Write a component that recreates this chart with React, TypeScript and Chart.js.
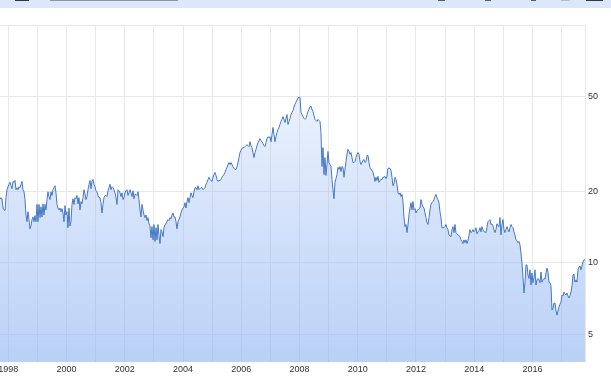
import React, { useEffect, useRef } from "react";
import { Chart, registerables } from "chart.js";

Chart.register(...registerables);

const firstSampleYear = 1997.715;
const lastSampleYear = 2017.805;
const samplesPerYear = 29.12;
const yearTicks = [1998, 1999, 2000, 2001, 2002, 2003, 2004, 2005, 2006, 2007, 2008, 2009, 2010, 2011, 2012, 2013, 2014, 2015, 2016, 2017];
const yearLabels = [1998, 2000, 2002, 2004, 2006, 2008, 2010, 2012, 2014, 2016];
const priceTicks = [5, 10, 20, 50, 100];
const priceLabels = [5, 10, 20, 50];

const prices = [
  18.8,18.6,18.6,17.0,16.7,16.6,18.8,20.3,20.9,21.4,21.8,21.1,20.5,22.0,21.8,22.2,20.3,20.7,20.3,20.9,
  20.7,21.4,22.0,20.3,19.9,18.45,15.9,14.9,16.4,15.2,13.9,14.3,15.2,15.6,14.9,15.8,14.9,17.6,14.9,17.6,
  15.5,17.2,15.6,17.7,15.9,17.6,16.7,18.45,19.9,19.0,18.45,19.9,19.2,20.3,20.7,21.1,19.7,17.6,17.0,16.7,
  17.0,16.4,16.9,16.2,14.9,17.4,15.9,16.4,14.05,17.0,14.3,14.9,17.6,18.6,17.6,18.8,18.6,19.2,17.7,18.8,
  16.7,18.1,17.7,18.8,20.3,19.5,18.45,19.0,20.3,21.4,22.2,20.5,22.0,22.4,21.4,20.9,20.1,19.9,19.2,18.8,
  18.8,17.9,16.2,17.6,18.8,19.2,19.2,19.0,20.1,20.7,21.4,20.3,20.9,20.7,20.3,19.7,18.8,17.6,20.3,20.1,
  19.7,19.0,19.7,18.45,18.8,19.7,20.1,20.3,19.2,19.7,20.3,19.7,19.0,20.1,18.6,19.4,19.4,19.2,19.9,18.45,
  16.7,15.6,17.6,16.7,15.9,15.5,15.9,15.05,15.5,14.6,14.3,12.75,14.2,12.5,14.5,12.3,14.05,12.5,14.5,13.0,
  12.05,13.8,13.5,12.9,14.05,14.5,14.6,14.9,15.2,15.05,15.5,15.3,15.9,16.2,15.6,15.6,14.9,13.9,14.9,15.2,
  15.6,16.2,16.7,17.0,17.2,17.9,17.0,18.1,18.8,17.9,18.8,19.7,19.2,18.8,19.9,20.7,20.7,20.3,21.1,20.3,
  20.5,20.7,20.7,20.3,20.5,20.7,21.4,21.8,22.4,22.9,22.4,22.2,22.0,22.9,23.5,24.0,23.3,22.4,22.0,22.2,
  22.2,22.4,22.9,23.3,23.5,24.0,24.7,25.2,25.9,26.4,25.9,26.4,25.9,25.4,25.0,24.7,24.7,25.4,26.4,27.7,
  29.1,29.7,30.3,30.5,30.5,30.8,31.1,31.4,31.1,30.8,32.3,31.1,30.5,29.1,27.7,29.1,30.0,31.1,32.0,32.6,
  33.3,32.6,32.3,31.7,31.1,30.8,32.0,33.3,33.9,33.6,33.9,32.3,34.6,37.1,34.6,32.3,33.9,35.3,36.4,37.1,
  38.2,39.3,40.1,41.2,40.1,38.9,40.5,42.0,38.2,39.3,40.5,42.0,42.9,43.7,45.2,46.5,47.4,48.4,49.3,49.7,
  49.7,42.9,42.0,41.2,40.5,40.1,40.5,42.0,43.3,44.2,45.2,45.6,44.2,43.3,41.6,40.1,39.7,39.3,40.1,39.7,
  39.3,35.3,25.4,30.5,23.5,27.7,23.3,25.9,29.4,26.4,25.9,25.4,22.4,20.3,18.6,21.8,22.6,23.5,25.2,24.7,
  25.4,24.2,25.4,25.2,22.9,24.7,26.7,28.6,30.0,29.4,28.6,29.1,27.7,26.4,26.4,26.7,27.7,28.6,29.1,28.6,
  26.7,25.9,26.4,27.0,27.2,26.4,26.7,28.3,28.3,26.4,25.2,24.7,24.5,24.0,23.1,22.0,22.9,22.2,23.1,21.8,
  22.2,22.4,22.4,22.9,22.9,23.1,22.6,23.1,25.0,25.0,25.0,24.5,22.9,21.1,21.6,22.9,22.4,21.4,19.7,19.4,
  19.7,19.0,19.4,18.1,15.5,14.2,14.5,13.4,14.5,15.9,17.0,17.9,16.7,18.1,16.7,16.9,16.2,16.6,16.7,16.9,
  17.0,18.45,17.6,17.2,17.0,16.2,15.5,14.75,14.5,15.5,16.7,17.6,17.9,18.1,18.45,19.0,19.4,18.8,18.45,17.9,
  16.4,15.5,14.05,14.05,14.05,14.2,14.5,14.05,13.8,13.1,13.0,12.9,13.8,14.2,13.4,14.5,13.4,13.25,13.1,13.0,
  12.9,12.5,12.3,12.05,12.5,12.15,12.5,12.05,12.4,13.0,13.8,13.4,13.5,13.8,13.5,13.65,14.05,13.25,13.5,13.65,
  14.05,13.5,14.2,13.8,13.5,13.5,13.4,14.05,14.9,15.05,15.2,14.5,14.6,14.3,13.8,13.4,13.8,14.6,14.3,14.2,
  15.5,13.1,14.5,15.2,13.8,13.4,13.8,14.2,13.8,13.5,14.05,14.5,14.2,14.05,13.5,13.1,12.5,12.4,12.15,12.3,
  11.9,11.0,10,8.7,7.47,8.25,9.8,9.8,8.9,8.6,9.35,8.07,9.05,8.25,8.7,9.35,8.07,8.48,8.6,8.48,
  8.25,9.15,8.3,8.48,8.6,8.55,9.05,9.5,9.15,8.3,8.25,8.0,6.33,6.46,6.78,6.78,6.33,6.03,6.27,6.52,
  6.71,6.84,7.33,7.26,7.54,7.4,7.33,7.47,7.26,7.12,7.26,7.54,8.0,8.9,8.97,8.3,8.48,8.3,9.35,9.6,9.7,9.35,9.7,10.1,10.3,10.3,
];

const toolbarMarks: [number, number, number, number, string][] = [
  [15, 0, 14, 1, "#33363b"],
  [50, 0, 128, 1, "#8f959c"],
  [438, 0, 7, 1, "#555a60"],
  [485, 0, 6, 1, "#555a60"],
  [531, 0, 5, 1, "#555a60"],
  [561, 0, 9, 1, "#b8bec6"],
  [586, 0, 17, 1, "#33363b"],
];

const gridColor = "#e8e8e8";
const labelFont = { family: "'Liberation Sans', Arial, sans-serif", size: 9 };

export default function App() {
  const ref = useRef<HTMLCanvasElement | null>(null);

  useEffect(() => {
    const chart = new Chart(ref.current as HTMLCanvasElement, {
      type: "line",
      data: {
        datasets: [
          {
            data: prices.map((y, i) => ({ x: firstSampleYear + i / samplesPerYear, y })),
            borderColor: "#4577c4",
            borderWidth: 1,
            pointRadius: 0,
            tension: 0,
            fill: "start",
            backgroundColor: (ctx: any) => {
              const area = ctx.chart.chartArea;
              if (!area) return "rgba(138,177,242,0.3)";
              const g = ctx.chart.ctx.createLinearGradient(0, area.top, 0, area.bottom);
              g.addColorStop(0, "rgba(138,177,242,0.06)");
              g.addColorStop(1, "rgba(138,177,242,0.6)");
              return g;
            },
          },
        ],
      },
      options: {
        responsive: false,
        animation: false,
        devicePixelRatio: 1,
        layout: { padding: { top: 25, left: 0, right: 0, bottom: 0 } },
        plugins: { legend: { display: false }, tooltip: { enabled: false } },
        scales: {
          x: {
            type: "linear",
            min: firstSampleYear,
            max: lastSampleYear,
            afterBuildTicks: (s: any) => {
              s.ticks = yearTicks.map((value) => ({ value }));
            },
            afterFit: (s: any) => {
              s.height = 15;
              s.paddingLeft = 0;
              s.paddingRight = 0;
            },
            grid: { color: gridColor, drawTicks: false },
            border: { display: false },
            ticks: {
              autoSkip: false,
              maxRotation: 0,
              padding: 2,
              color: "#333333",
              font: labelFont,
              callback: (v: any) => (yearLabels.includes(v) ? String(v) : ""),
            },
          },
          y: {
            type: "logarithmic",
            position: "right",
            min: 3.83,
            max: 100,
            afterBuildTicks: (s: any) => {
              s.ticks = priceTicks.map((value) => ({ value }));
            },
            afterFit: (s: any) => {
              s.width = 26;
              s.paddingTop = 0;
              s.paddingBottom = 0;
            },
            grid: { color: gridColor, drawTicks: false },
            border: { display: true, color: gridColor },
            ticks: {
              autoSkip: false,
              padding: 3,
              color: "#333333",
              font: labelFont,
              callback: (v: any) => (priceLabels.includes(v) ? String(v) : ""),
            },
          },
        },
      },
    } as any);
    return () => chart.destroy();
  }, []);

  return (
    <div style={{ position: "absolute", left: 0, top: 0, width: 611, height: 377, background: "#ffffff", overflow: "hidden" }}>
      <canvas ref={ref} width={611} height={377} style={{ display: "block" }} />
      <div style={{ position: "absolute", left: 0, top: 0, width: 611, height: 8, background: "#dbe8fb" }} />
      {toolbarMarks.map(([left, top, width, height, background], i) => (
        <div key={i} style={{ position: "absolute", left, top, width, height, background }} />
      ))}
    </div>
  );
}
